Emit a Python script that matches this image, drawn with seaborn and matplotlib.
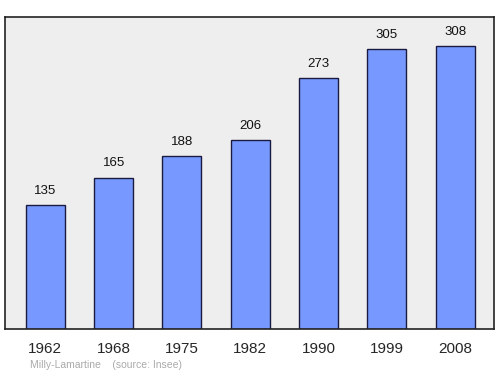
import matplotlib

matplotlib.use("Agg")

import matplotlib.pyplot as plt

import seaborn as sns

import pandas as pd

# Data
years = ["1962", "1968", "1975", "1982", "1990", "1999", "2008"]
population = [135, 165, 188, 206, 273, 305, 308]

df = pd.DataFrame({"Year": years, "Population": population})

sns.set_style("white")
plt.rcParams["font.family"] = ["Liberation Sans", "DejaVu Sans"]

fig = plt.figure(figsize=(5, 3.74), dpi=100)
ax = fig.add_axes([0.01, 0.12, 0.978, 0.835])

sns.barplot(
    data=df,
    x="Year",
    y="Population",
    color="#7799ff",
    saturation=1,
    width=0.57,
    edgecolor="#1a1a40",
    linewidth=1,
    ax=ax
)

# Value labels above bars
for i, v in enumerate(population):
    ax.text(i, v + 9, str(v), ha="center", va="bottom", fontsize=9.5, color="#111111")

ax.set_facecolor("#eeeeee")
ax.set_xlim(-0.59, 6.57)
ax.set_ylim(0, 340)
ax.set_yticks([])
ax.set_xlabel("")
ax.set_ylabel("")
ax.tick_params(axis="x", length=0, labelsize=11, pad=9)

for spine in ax.spines.values():
    spine.set_color("#222222")
    spine.set_linewidth(1.2)

fig.text(0.06, 0.024, "Milly-Lamartine    (source: Insee)", fontsize=7.5,
         color="#aaaaaa", va="center")

plt.savefig("out.png", dpi=100)
plt.close()
